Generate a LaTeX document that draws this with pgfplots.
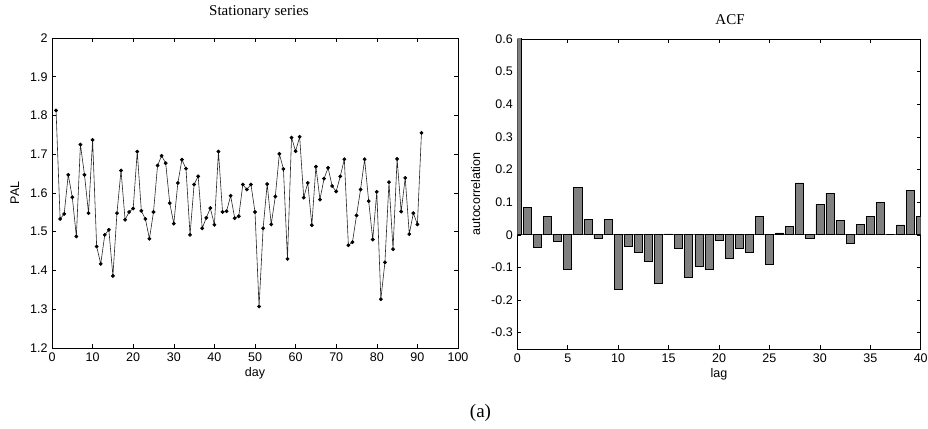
\documentclass[border=0pt]{standalone}
\usepackage{fontspec}
\setmainfont{Liberation Serif}
\setsansfont{Liberation Sans}
\usepackage{pgfplots}
\pgfplotsset{compat=1.18}
\definecolor{bargray}{RGB}{128,128,128}
\begin{document}
\begin{tikzpicture}[x=1pt,y=1pt]
\useasboundingbox (0,0) rectangle (928,428);
\pgfplotsset{
  mystyle/.style={
    scale only axis,
    anchor=south west,
    font=\sffamily\fontsize{12.5}{14}\selectfont,
    /pgf/number format/assume math mode=true,
    tick align=inside,
    major tick length=4pt,
    axis line style={line width=0.8pt},
    tick style={line width=0.5pt, black},
    xticklabel style={yshift=-1pt},
    yticklabel style={xshift=-1pt},
  }
}
\begin{axis}[mystyle,
  at={(52pt,80pt)}, width=406pt, height=310pt,
  xmin=0, xmax=100, ymin=1.2, ymax=2,
  xtick={0,10,20,30,40,50,60,70,80,90,100},
  ytick={1.2,1.3,1.4,1.5,1.6,1.7,1.8,1.9,2},
  xlabel={day}, ylabel={PAL},
  xlabel style={yshift=1pt},
  ylabel style={yshift=4pt},
]
\addplot[black!85, line width=0.6pt, mark=*, mark size=1.6pt, mark options={black, solid}] coordinates {
(1,1.813) (2,1.533) (3,1.546) (4,1.647) (5,1.589) (6,1.488) (7,1.725) (8,1.647) (9,1.548) (10,1.737)
(11,1.462) (12,1.417) (13,1.492) (14,1.505) (15,1.386) (16,1.548) (17,1.658) (18,1.531) (19,1.551) (20,1.560)
(21,1.707) (22,1.554) (23,1.533) (24,1.482) (25,1.551) (26,1.671) (27,1.696) (28,1.677) (29,1.574) (30,1.521)
(31,1.626) (32,1.686) (33,1.663) (34,1.492) (35,1.622) (36,1.643) (37,1.509) (38,1.536) (39,1.561) (40,1.518)
(41,1.707) (42,1.551) (43,1.553) (44,1.593) (45,1.535) (46,1.540) (47,1.622) (48,1.609) (49,1.622) (50,1.551)
(51,1.307) (52,1.509) (53,1.623) (54,1.519) (55,1.591) (56,1.701) (57,1.662) (58,1.430) (59,1.743) (60,1.708)
(61,1.745) (62,1.588) (63,1.626) (64,1.517) (65,1.668) (66,1.583) (67,1.637) (68,1.665) (69,1.618) (70,1.604)
(71,1.643) (72,1.687) (73,1.465) (74,1.473) (75,1.542) (76,1.609) (77,1.687) (78,1.579) (79,1.480) (80,1.603)
(81,1.326) (82,1.421) (83,1.628) (84,1.455) (85,1.688) (86,1.552) (87,1.639) (88,1.494) (89,1.548) (90,1.519)
(91,1.755)
};
\end{axis}
\begin{axis}[mystyle,
  at={(517.3pt,79pt)}, width=403.4pt, height=310pt,
  xmin=0, xmax=40, ymin=-0.35, ymax=0.6,
  xtick={0,5,10,15,20,25,30,35,40},
  ytick={-0.3,-0.2,-0.1,0,0.1,0.2,0.3,0.4,0.5,0.6},
  yticklabel style={/pgf/number format/fixed, /pgf/number format/precision=1},
  xlabel={lag}, ylabel={autocorrelation},
  xlabel style={yshift=1pt},
  ylabel style={yshift=4pt},
]
\addplot[gray!70!black, line width=0.8pt] coordinates {(0,0) (40,0)};
\addplot[ybar, bar width=0.8, fill=bargray, draw=black, line width=0.6pt] coordinates {
(0,1.0) (1,0.083) (2,-0.039) (3,0.056) (4,-0.020) (5,-0.106) (6,0.146) (7,0.047) (8,-0.012) (9,0.047)
(10,-0.168) (11,-0.036) (12,-0.053) (13,-0.082) (14,-0.149) (15,0.003) (16,-0.041) (17,-0.131) (18,-0.096) (19,-0.106)
(20,-0.016) (21,-0.073) (22,-0.041) (23,-0.053) (24,0.056) (25,-0.090) (26,0.006) (27,0.026) (28,0.159) (29,-0.012)
(30,0.094) (31,0.127) (32,0.044) (33,-0.027) (34,0.032) (35,0.056) (36,0.100) (37,0.0) (38,0.030) (39,0.135)
(40,0.056)
};
\end{axis}
\node at (259,416) {\fontsize{15}{17}\selectfont\rmfamily Stationary series};
\node at (730,408) {\fontsize{15}{17}\selectfont\rmfamily ACF};
\node at (480.5,15) {\fontsize{19}{21}\selectfont\rmfamily (a)};
\end{tikzpicture}
\end{document}
